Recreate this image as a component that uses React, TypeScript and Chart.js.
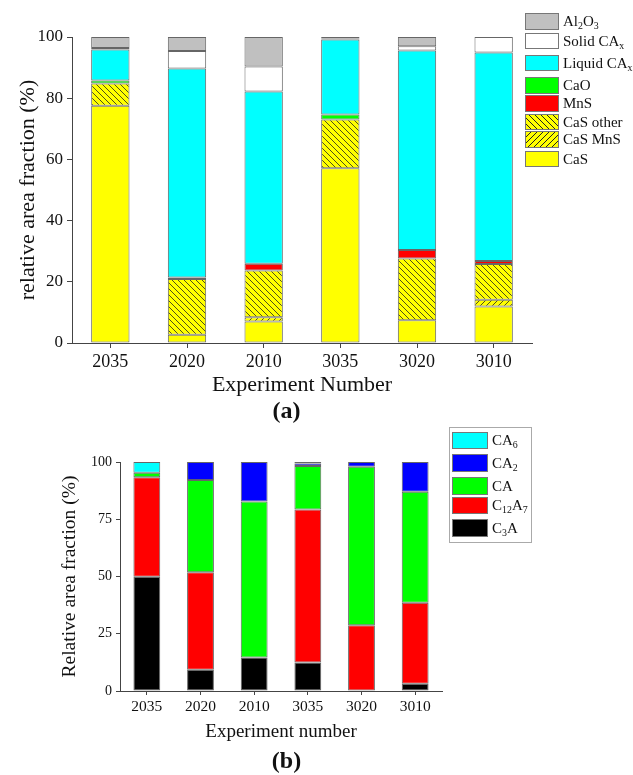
import React, { useEffect, useRef } from 'react';
import { Chart, registerables } from 'chart.js';
Chart.register(...registerables);

const FONT = '"Liberation Serif", "Times New Roman", serif';

// ---- data (a) ----
const experiments = ['2035', '2020', '2010', '3035', '3020', '3010'];
const casVals = [77.5, 2.7, 7.0, 57.1, 7.4, 11.9];
const casMnsVals = [0, 0, 1.4, 0, 0, 2.2];
const casOtherVals = [7.3, 18.2, 15.3, 15.9, 20.2, 11.7];
const mnsVals = [0, 0.5, 2.2, 0, 2.8, 1.0];
const caoVals = [1.0, 0, 0, 1.7, 0, 0];
const liquidVals = [10.1, 68.3, 56.3, 24.5, 65.2, 68.1];
const solidVals = [0.5, 5.7, 8.2, 0.3, 1.4, 5.1];
const al2o3Vals = [3.6, 4.6, 9.6, 0.5, 3.0, 0];
const ticksA = [0, 20, 40, 60, 80, 100];

// ---- data (b) ----
const c3aVals = [49.9, 9.3, 14.6, 12.5, 0, 3.2];
const c12a7Vals = [43.4, 42.6, 0, 66.8, 28.7, 35.3];
const caVals = [2.0, 40.2, 68.2, 19.0, 69.2, 48.5];
const ca2Vals = [0, 7.9, 17.2, 1.0, 2.1, 13.0];
const ca6Vals = [4.7, 0, 0, 0.7, 0, 0];
const ticksB = [0, 25, 50, 75, 100];

function hatch(dir: 'back' | 'fwd'): CanvasPattern | string {
  const s = 6;
  const c = document.createElement('canvas');
  c.width = s;
  c.height = s;
  const g = c.getContext('2d');
  if (!g) return '#ffff00';
  g.fillStyle = '#ffff00';
  g.fillRect(0, 0, s, s);
  g.strokeStyle = '#222';
  g.lineWidth = 0.8;
  g.beginPath();
  if (dir === 'back') {
    g.moveTo(-1, -1); g.lineTo(s + 1, s + 1);
    g.moveTo(-1, s - 1); g.lineTo(1, s + 1);
    g.moveTo(s - 1, -1); g.lineTo(s + 1, 1);
  } else {
    g.moveTo(-1, s + 1); g.lineTo(s + 1, -1);
    g.moveTo(-1, 1); g.lineTo(1, -1);
    g.moveTo(s - 1, s + 1); g.lineTo(s + 1, s - 1);
  }
  g.stroke();
  const p = g.createPattern(c, 'repeat');
  return p || '#ffff00';
}

const bw = (ctx: any) => (ctx.raw === 0 ? 0 : 1);

function makeScales(opts: {
  yWidth: number; xHeight: number; ticks: number[]; step: number;
  yTitle: string; xTitle: string; yTitleSize: number; xTitleSize: number;
  yTickSize: number; xTickSize: number; tickLen: number;
}) {
  const axisColor = '#444';
  return {
    x: {
      stacked: true,
      offset: true,
      grid: { display: true, drawOnChartArea: false, drawTicks: true, tickLength: opts.tickLen, color: axisColor, offset: false },
      border: { display: true, color: axisColor, width: 1 },
      ticks: { color: '#111', font: { family: FONT, size: opts.xTickSize }, padding: 3, maxRotation: 0 },
      title: { display: true, text: opts.xTitle, color: '#111', font: { family: FONT, size: opts.xTitleSize }, padding: 0 },
      afterFit: (s: any) => { s.height = opts.xHeight; },
    },
    y: {
      stacked: true,
      min: 0,
      max: 100,
      grid: { display: true, drawOnChartArea: false, drawTicks: true, tickLength: opts.tickLen, color: axisColor },
      border: { display: true, color: axisColor, width: 1 },
      afterBuildTicks: (s: any) => { s.ticks = opts.ticks.map((v) => ({ value: v })); },
      ticks: { color: '#111', font: { family: FONT, size: opts.yTickSize }, padding: 4, stepSize: opts.step },
      title: { display: true, text: opts.yTitle, color: '#111', font: { family: FONT, size: opts.yTitleSize }, padding: 0 },
      afterFit: (s: any) => { s.width = opts.yWidth; },
    },
  };
}

function ChartA() {
  const ref = useRef<HTMLCanvasElement>(null);
  useEffect(() => {
    if (!ref.current) return;
    const border = '#666';
    const ds = (label: string, data: number[], bg: any) => ({
      label, data, backgroundColor: bg, borderColor: border, borderWidth: bw, borderSkipped: false,
    });
    const chart = new Chart(ref.current, {
      type: 'bar',
      data: {
        labels: experiments,
        datasets: [
          ds('CaS', casVals, '#ffff00'),
          ds('CaS MnS', casMnsVals, hatch('fwd')),
          ds('CaS other', casOtherVals, hatch('back')),
          ds('MnS', mnsVals, '#ff0000'),
          ds('CaO', caoVals, '#00ff00'),
          ds('Liquid CAx', liquidVals, '#00ffff'),
          ds('Solid CAx', solidVals, '#ffffff'),
          ds('Al2O3', al2o3Vals, '#c0c0c0'),
        ] as any,
      },
      options: {
        animation: false,
        responsive: false,
        maintainAspectRatio: false,
        datasets: { bar: { barPercentage: 0.5, categoryPercentage: 1 } },
        layout: { padding: { left: 15, right: 101, top: 37, bottom: 2 } },
        plugins: { legend: { display: false }, tooltip: { enabled: false } },
        scales: makeScales({
          yWidth: 57, xHeight: 55, ticks: ticksA, step: 20,
          yTitle: 'relative area fraction (%)', xTitle: 'Experiment Number',
          yTitleSize: 22, xTitleSize: 22, yTickSize: 17, xTickSize: 18, tickLen: 5,
        }) as any,
      },
    });
    return () => chart.destroy();
  }, []);
  return <canvas ref={ref} width={633} height={400} style={{ position: 'absolute', left: 0, top: 0, width: 633, height: 400 }} />;
}

function ChartB() {
  const ref = useRef<HTMLCanvasElement>(null);
  useEffect(() => {
    if (!ref.current) return;
    const border = '#666';
    const ds = (label: string, data: number[], bg: any) => ({
      label, data, backgroundColor: bg, borderColor: border, borderWidth: bw, borderSkipped: false,
    });
    const chart = new Chart(ref.current, {
      type: 'bar',
      data: {
        labels: experiments,
        datasets: [
          ds('C3A', c3aVals, '#000000'),
          ds('C12A7', c12a7Vals, '#ff0000'),
          ds('CA', caVals, '#00ff00'),
          ds('CA2', ca2Vals, '#0000ff'),
          ds('CA6', ca6Vals, '#00ffff'),
        ] as any,
      },
      options: {
        animation: false,
        responsive: false,
        maintainAspectRatio: false,
        datasets: { bar: { barPercentage: 0.5, categoryPercentage: 1 } },
        layout: { padding: { left: 58, right: 191, top: 42, bottom: 32 } },
        plugins: { legend: { display: false }, tooltip: { enabled: false } },
        scales: makeScales({
          yWidth: 62, xHeight: 52, ticks: ticksB, step: 25,
          yTitle: 'Relative area fraction (%)', xTitle: 'Experiment number',
          yTitleSize: 19.5, xTitleSize: 19, yTickSize: 14, xTickSize: 15.5, tickLen: 4,
        }) as any,
      },
    });
    return () => chart.destroy();
  }, []);
  return <canvas ref={ref} width={633} height={355} style={{ position: 'absolute', left: 0, top: 420, width: 633, height: 355 }} />;
}

const subStyle: React.CSSProperties = { fontSize: '0.66em', verticalAlign: '-0.3em', lineHeight: 0 };

type LegendItem = { top: number; bg: string; label: React.ReactNode };

const legendA: LegendItem[] = [
  { top: 13.5, bg: '#c0c0c0', label: <>Al<sub style={subStyle}>2</sub>O<sub style={subStyle}>3</sub></> },
  { top: 33, bg: '#ffffff', label: <>Solid CA<sub style={subStyle}>x</sub></> },
  { top: 55, bg: '#00ffff', label: <>Liquid CA<sub style={subStyle}>x</sub></> },
  { top: 77.5, bg: '#00ff00', label: 'CaO' },
  { top: 95.5, bg: '#ff0000', label: 'MnS' },
  { top: 114, bg: 'repeating-linear-gradient(45deg, #ffff00 0px, #ffff00 3.2px, #222 3.2px, #222 4.2px)', label: 'CaS other' },
  { top: 131.5, bg: 'repeating-linear-gradient(135deg, #ffff00 0px, #ffff00 3.2px, #222 3.2px, #222 4.2px)', label: 'CaS MnS' },
  { top: 151, bg: '#ffff00', label: 'CaS' },
];

const legendB: LegendItem[] = [
  { top: 432, bg: '#00ffff', label: <>CA<sub style={subStyle}>6</sub></> },
  { top: 454.5, bg: '#0000ff', label: <>CA<sub style={subStyle}>2</sub></> },
  { top: 477.5, bg: '#00ff00', label: 'CA' },
  { top: 497, bg: '#ff0000', label: <>C<sub style={subStyle}>12</sub>A<sub style={subStyle}>7</sub></> },
  { top: 519.5, bg: '#000000', label: <>C<sub style={subStyle}>3</sub>A</> },
];

export default function App() {
  return (
    <div style={{ position: 'fixed', left: 0, top: 0, width: 633, height: 775, background: '#fff', overflow: 'hidden', fontFamily: FONT, color: '#111' }}>
      <ChartA />
      <ChartB />
      {legendA.map((it, i) => (
        <div key={'a' + i} style={{ position: 'absolute', left: 525, top: it.top, height: 16, display: 'flex', alignItems: 'center', whiteSpace: 'nowrap' }}>
          <div style={{ width: 32, height: 14.5, background: it.bg, border: '1px solid #777', flex: 'none' }} />
          <span style={{ marginLeft: 4, fontSize: 15, lineHeight: 1 }}>{it.label}</span>
        </div>
      ))}
      <div style={{ position: 'absolute', left: 449, top: 427, width: 81, height: 114, border: '1px solid #aaa' }} />
      {legendB.map((it, i) => (
        <div key={'b' + i} style={{ position: 'absolute', left: 452, top: it.top, height: 17, display: 'flex', alignItems: 'center', whiteSpace: 'nowrap' }}>
          <div style={{ width: 34, height: 15.5, background: it.bg, border: '1px solid #777', flex: 'none' }} />
          <span style={{ marginLeft: 4, fontSize: 15, lineHeight: 1 }}>{it.label}</span>
        </div>
      ))}
      <div style={{ position: 'absolute', left: 0, width: 573, top: 396, textAlign: 'center', fontWeight: 'bold', fontSize: 24, lineHeight: '28px' }}>(a)</div>
      <div style={{ position: 'absolute', left: 0, width: 573, top: 746, textAlign: 'center', fontWeight: 'bold', fontSize: 24, lineHeight: '28px' }}>(b)</div>
    </div>
  );
}
